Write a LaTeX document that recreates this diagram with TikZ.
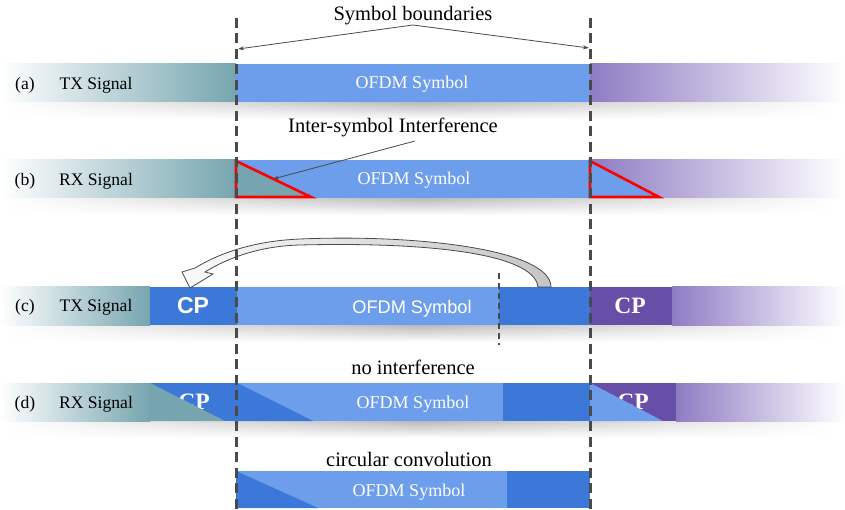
\documentclass[tikz,border=0pt]{standalone}
\usepackage{fontspec}
\setmainfont{Liberation Serif}
\setsansfont{Liberation Sans}
\usetikzlibrary{arrows.meta,fadings}
\definecolor{tealc}{HTML}{76A5AF}
\definecolor{lblue}{HTML}{6D9EEB}
\definecolor{dblue}{HTML}{3C78D8}
\definecolor{purp}{HTML}{8E7CC3}
\definecolor{dpurp}{HTML}{674EA7}
\definecolor{lineg}{HTML}{4A4A4A}
\tikzfading[name=hfade, left color=transparent!100, right color=transparent!100, middle color=transparent!0]
\begin{document}
\begin{tikzpicture}[x=1pt,y=-1pt,
  lbl/.style={font=\fontsize{20.5}{24}\selectfont, inner sep=0pt, anchor=base},
  rowlbl/.style={font=\fontsize{17.6}{20}\selectfont, inner sep=0pt, anchor=base},
  sym/.style={font=\fontsize{18}{20}\selectfont, text=white, inner sep=0pt, anchor=base},
  symsf/.style={font=\sffamily\fontsize{18.2}{20}\selectfont, text=white, inner sep=0pt, anchor=base},
  cpsf/.style={font=\sffamily\bfseries\fontsize{23}{25}\selectfont, text=white, inner sep=0pt, anchor=base},
  cprm/.style={font=\bfseries\fontsize{23.5}{25}\selectfont, text=white, inner sep=0pt, anchor=base},
  shadowbar/.style={top color=black!32, bottom color=white, path fading=hfade},
  vdash/.style={draw=lineg, line width=3pt, dash pattern=on 10pt off 5.5pt},
  thindash/.style={draw=lineg, line width=1.5pt, dash pattern=on 6pt off 4pt},
  pointer/.style={draw=lineg, line width=0.8pt, -{Stealth[length=6pt,width=4pt]}},
  isiline/.style={draw=red, line width=2.6pt, line join=miter}
]
\useasboundingbox (0,0) rectangle (845,510);
\fill[white] (0,0) rectangle (845,510);

% shadows
\foreach \b in {102,198,325,421}{
  \shade[shadowbar] (10,\b-3) rectangle (835,\b+17);
}

% ---- row (a)
\shade[left color=white, right color=tealc] (0,64) rectangle (236,102);
\fill[lblue] (236,64) rectangle (590,102);
\shade[left color=purp, right color=white] (590,64) rectangle (845,102);

% ---- row (b)
\shade[left color=white, right color=tealc] (0,160) rectangle (236,198);
\fill[lblue] (236,160) rectangle (590,198);
\shade[left color=purp, right color=white] (590,160) rectangle (845,198);
\filldraw[fill=tealc, isiline] (236,161) -- (236,197) -- (311,197) -- cycle;
\filldraw[fill=lblue, isiline] (590,161) -- (590,197) -- (659,197) -- cycle;

% ---- row (c)
\shade[left color=white, right color=tealc] (0,287) rectangle (150,325);
\fill[dblue] (150,287) rectangle (237,325);
\fill[lblue] (237,287) rectangle (499,325);
\fill[dblue] (499,287) rectangle (590,325);
\fill[dpurp] (590,287) rectangle (672,325);
\shade[left color=purp, right color=white] (672,287) rectangle (845,325);

% ---- row (d)
\shade[left color=white, right color=tealc] (0,383) rectangle (150,421);
\fill[dblue] (150,383) rectangle (237,421);
\node[cprm] (cpd1) at (194,409) {CP};
\fill[tealc] (150,383) -- (225,421) -- (150,421) -- cycle;
\fill[lblue] (237,383) rectangle (503,421);
\fill[dblue] (237,383) -- (313,421) -- (237,421) -- cycle;
\fill[dblue] (503,383) rectangle (590,421);
\fill[dpurp] (590,383) rectangle (676,421);
\node[cprm] (cpd2) at (633,409) {CP};
\fill[lblue] (590,383) -- (663,421) -- (590,421) -- cycle;
\shade[left color=purp, right color=white] (676,383) rectangle (845,421);

% ---- bottom bar
\fill[lblue] (236,471) rectangle (507,508);
\fill[dblue] (236,471) -- (318,508) -- (236,508) -- cycle;
\fill[dblue] (507,471) rectangle (590,508);

% ---- curved copy arrow
\shadedraw[left color=white!96!gray, right color=gray!45, draw=lineg, line width=0.8pt, line join=miter]
  (551,287) .. controls (551,250) and (420,234) .. (300,239)
  .. controls (252,241) and (218,254) .. (195,268)
  -- (182,272) -- (190,288) -- (213,274) -- (205,272)
  .. controls (226,259) and (258,246) .. (300,245)
  .. controls (420,242) and (534,252) .. (538,287) -- cycle;

% ---- dashed boundaries
\draw[vdash] (236,18) -- (236,510);
\draw[vdash] (590,18) -- (590,510);
\draw[thindash] (499,273) -- (499,345);

% ---- texts
\node[lbl] (sb) at (413,21) {Symbol boundaries};
\coordinate (sbA) at (413,25);
\coordinate (sbL) at (238,49);
\coordinate (sbR) at (589,48);
\draw[pointer] (sbA) -- (sbL);
\draw[pointer] (sbA) -- (sbR);

\node[lbl] (isi) at (393,133) {Inter-symbol Interference};
\coordinate (isiA) at (415,141);
\coordinate (isiB) at (273,179);
\draw[pointer] (isiA) -- (isiB);

\node[lbl] (noi) at (413,374) {no interference};
\node[lbl] (cc) at (409,466) {circular convolution};

\node[rowlbl] (la) at (25,90) {(a)};
\node[rowlbl] (ta) at (96,90) {TX Signal};
\node[rowlbl] (lb) at (25,186) {(b)};
\node[rowlbl] (tb) at (96,186) {RX Signal};
\node[rowlbl] (lc) at (25,312) {(c)};
\node[rowlbl] (tc) at (96,312) {TX Signal};
\node[rowlbl] (ld) at (25,408) {(d)};
\node[rowlbl] (td) at (96,408) {RX Signal};

\node[sym] (oa) at (412,89) {OFDM Symbol};
\node[sym] (ob) at (414,185) {OFDM Symbol};
\node[symsf] (oc) at (412,313) {OFDM Symbol};
\node[sym] (od) at (413,408) {OFDM Symbol};
\node[sym] (oe) at (409,496) {OFDM Symbol};

\node[cpsf] (cpc1) at (193,313) {CP};
\node[cprm] (cpc2) at (630,313) {CP};
\end{tikzpicture}
\end{document}
